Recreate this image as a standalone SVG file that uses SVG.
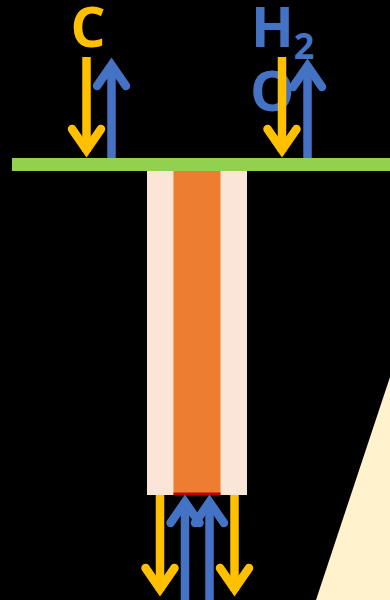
<svg xmlns="http://www.w3.org/2000/svg" width="390" height="600" viewBox="0 0 390 600">
<style>
.y{fill:none;stroke:#FFC000;stroke-width:8.5;stroke-linecap:butt}
.yh{fill:none;stroke:#FFC000;stroke-width:8.5;stroke-linecap:round;stroke-linejoin:miter;stroke-miterlimit:10}
.b{fill:none;stroke:#4472C4;stroke-width:8.5;stroke-linecap:butt}
.bh{fill:none;stroke:#4472C4;stroke-width:8.5;stroke-linecap:round;stroke-linejoin:miter;stroke-miterlimit:10}
.lbl{font-family:"Open Sans","DejaVu Sans",sans-serif;font-weight:bold}
</style>
<rect width="390" height="600" fill="#000"/>
<polygon id="triangle" points="390,377 390,600 316,600" fill="#FFF2CC"/>
<g id="membrane"><rect x="12" y="158" width="378" height="13" fill="#92D050"/></g>
<g id="tube">
<rect x="147" y="171" width="100" height="324" fill="#FBE5D6"/>
<rect x="173.5" y="171" width="47" height="324" fill="#ED7D31"/>
<rect x="173.5" y="492.5" width="47" height="3" fill="#C00000"/>
</g>
<g id="label-C"><text class="lbl" x="88" y="47" font-size="55" fill="#FFC000" text-anchor="middle">C</text></g>
<g id="label-H2O" fill="#4472C4">
<text class="lbl" x="251" y="47" font-size="56">H<tspan font-size="36" dy="12">2</tspan></text>
<text class="lbl" x="250" y="111" font-size="56">O</text>
</g>
<g id="connectors">
<path class="y" d="M86.5 57V152"/><path class="yh" d="M72 129L86.5 150L101 129"/>
<path class="b" d="M111.5 158V64"/><path class="bh" d="M97 86L111.5 65L126 86"/>
<path class="y" d="M282 57V152"/><path class="yh" d="M267.5 129L282 150L296.5 129"/>
<path class="b" d="M307.5 158V65"/><path class="bh" d="M293 87L307.5 66L322 87"/>
<path class="y" d="M160 495V591"/><path class="yh" d="M145.5 568L160 589L174.5 568"/>
<path class="y" d="M234.5 495V591"/><path class="yh" d="M220 568L234.5 589L249 568"/>
<path class="b" d="M185 600V501"/><path class="bh" d="M170.5 523L185 502L199.5 523"/>
<path class="b" d="M209.5 600V501"/><path class="bh" d="M195 523L209.5 502L224 523"/>
</g>
</svg>
